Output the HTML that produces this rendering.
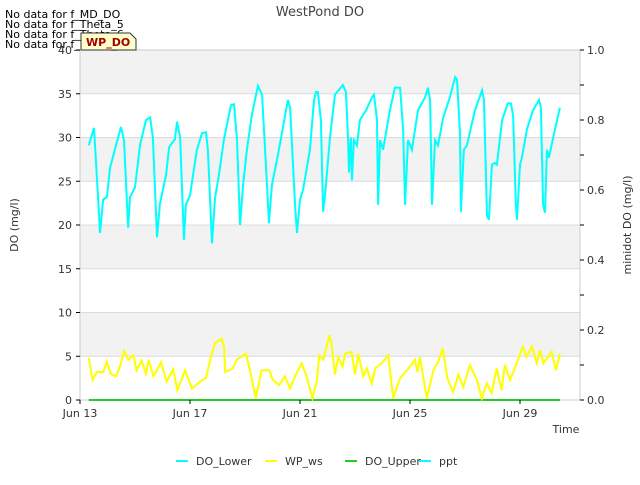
<!DOCTYPE html>
<html><head><meta charset="utf-8"><style>
body{margin:0;background:#fff;font-family:"Liberation Sans","DejaVu Sans",sans-serif}
svg text{font-family:"DejaVu Sans","Liberation Sans",sans-serif}
</style></head><body>
<svg id="c" width="640" height="480" viewBox="0 0 640 480" xmlns="http://www.w3.org/2000/svg">
<g id="bands"></g><g id="grid"></g>
<rect x="80" y="50" width="500" height="350" fill="none" stroke="#ccc"/>
<g id="series"></g><g id="axes"></g>
<text x="320" y="16" text-anchor="middle" font-size="13" fill="#444">WestPond DO</text>
<text x="566" y="433" text-anchor="middle" font-size="11" fill="#333">Time</text>
<text transform="translate(18,225) rotate(-90)" text-anchor="middle" font-size="11" fill="#333">DO (mg/l)</text>
<text transform="translate(631,225) rotate(-90)" text-anchor="middle" font-size="11" fill="#333">minidot DO (mg/l)</text>
<g font-size="11" fill="#000">
<text x="5" y="18">No data for f_MD_DO</text>
<text x="5" y="28">No data for f_Theta_5</text>
<text x="5" y="38">No data for f_Theta_6</text>
<text x="5" y="48">No data for f_Theta_7</text>
</g>
<g><path d="M81,33 H130 L136,39 V50 H81 Z" fill="#ffffcc" stroke="#333"/>
<text x="86" y="46" font-size="11" font-weight="bold" fill="#a00000">WP_DO</text></g>
<g id="legend"></g>
</svg>
<script>
const ppt_days=[0.32,0.51,0.73,0.84,0.98,1.09,1.24,1.49,1.6,1.75,1.82,2.0,2.18,2.4,2.55,2.65,2.8,2.91,3.13,3.24,3.45,3.53,3.64,3.78,3.85,4.0,4.25,4.44,4.58,4.65,4.8,4.91,5.05,5.24,5.49,5.6,5.71,5.82,5.93,6.07,6.25,6.47,6.62,6.8,6.87,6.98,7.16,7.35,7.49,7.56,7.64,7.82,7.89,8.0,8.11,8.36,8.51,8.58,8.65,8.76,8.84,8.91,9.09,9.27,9.56,9.67,9.75,9.78,9.85,9.89,9.96,10.07,10.18,10.4,10.62,10.69,10.8,10.84,10.91,11.02,11.27,11.45,11.64,11.75,11.82,11.93,12.07,12.29,12.55,12.65,12.73,12.8,12.91,13.02,13.2,13.45,13.64,13.71,13.82,13.85,13.96,14.07,14.36,14.62,14.69,14.8,14.87,14.98,15.09,15.16,15.35,15.56,15.67,15.75,15.85,15.89,16.0,16.07,16.25,16.47,16.69,16.76,16.84,16.91,16.98,17.05,17.27,17.45];
const ppt_vals=[29.1,31.1,19.1,22.9,23.2,26.5,28.3,31.2,29.7,19.7,23.2,24.3,29.1,32,32.3,30,18.6,22.5,25.7,28.9,29.8,31.8,30,18.3,22.3,23.4,28.6,30.5,30.6,28.6,17.9,23.1,25.7,29.9,33.7,33.8,29.7,20,24.6,28.6,32.6,35.9,34.9,24.6,20.2,24.6,27.4,30.6,33.1,34.3,33.4,22.3,19.1,22.9,24,28.6,34.3,35.2,35.2,32,21.5,23.4,30,34.9,36,35.2,29.7,26,30,25.1,29.7,29.1,32,33.1,34.6,34.9,32,22.3,29.7,28.6,33.1,35.7,35.7,30.9,22.3,29.7,28.6,33.1,34.6,35.7,34.3,22.3,29.7,29.1,32.2,34.6,36.9,36.6,30.3,21.5,28.6,29.1,33.1,35.4,34.3,21.1,20.6,26.9,27.1,26.9,32,33.9,33.9,32.5,22.3,20.6,26.9,27.7,30.9,33.1,34.3,33.4,22.3,21.4,28.6,27.7,30.9,33.4];
const ws_days=[0.32,0.46,0.61,0.85,0.97,1.12,1.31,1.45,1.61,1.76,1.94,2.06,2.24,2.4,2.5,2.67,2.95,3.15,3.39,3.54,3.82,4.07,4.36,4.58,4.75,4.91,5.15,5.24,5.28,5.55,5.7,6.03,6.18,6.39,6.61,6.88,7.01,7.24,7.45,7.64,7.82,8.06,8.24,8.45,8.61,8.7,8.85,9.07,9.15,9.27,9.39,9.55,9.64,9.88,10.0,10.12,10.3,10.43,10.61,10.73,10.97,11.21,11.39,11.64,11.94,12.18,12.27,12.36,12.61,12.85,13.03,13.19,13.36,13.57,13.76,13.94,14.18,14.43,14.61,14.79,14.97,15.15,15.33,15.45,15.64,15.88,16.1,16.24,16.43,16.61,16.73,16.85,17.15,17.31,17.45];
const ws_vals=[4.8,2.3,3.2,3.2,4.4,3.0,2.7,3.8,5.6,4.6,5.1,3.4,4.5,3.0,4.6,2.7,4.3,2.1,3.5,1.1,3.4,1.3,2.1,2.5,4.8,6.5,7.0,6.1,3.2,3.6,4.6,5.3,3.4,0.2,3.4,3.4,2.3,1.7,2.7,1.3,2.7,4.2,2.7,0.2,2.1,5.1,4.6,7.4,6.3,2.9,4.9,3.8,5.3,5.5,2.9,5.3,2.7,3.6,1.9,3.6,4.2,5.1,0.2,2.5,3.6,4.6,3.2,4.9,0.2,3.4,4.4,5.9,2.5,0.9,2.9,1.5,4.0,2.3,0.2,1.9,0.8,3.6,1.1,4.0,2.3,4.2,6.1,4.9,6.1,4.2,5.7,4.2,5.5,3.4,5.3];
const upper_days=[0.32,17.45];
const upper_vals=[0,0];
const xTickLabels=["Jun 13","Jun 17","Jun 21","Jun 25","Jun 29"];
const xTickDays=[0,4,8,12,16];
const yTicks=[0,5,10,15,20,25,30,35,40];
const y2Ticks=[0,0.2,0.4,0.6,0.8,1.0];

const NS="http://www.w3.org/2000/svg";
const X=d=>80+d*27.5, Y=v=>400-v*8.75, Y2=v=>400-v*350;
function mk(t,a,p){const e=document.createElementNS(NS,t);for(const k in a)e.setAttribute(k,a[k]);p.appendChild(e);return e;}
const bands=document.getElementById('bands'),grid=document.getElementById('grid'),axes=document.getElementById('axes'),series=document.getElementById('series'),legend=document.getElementById('legend');
mk('rect',{x:80,y:50,width:500,height:350,fill:'#fff'},bands);
for(let v=5;v<40;v+=10){const r=mk('rect',{x:80,y:Y(v+5),width:500,height:Y(v)-Y(v+5),fill:'#f2f2f2'},bands);

}
yTicks.forEach(v=>{
const g=mk('line',{x1:80,x2:580,y1:Y(v),y2:Y(v),stroke:'#dcdcdc'},grid);


mk('line',{x1:76,x2:80,y1:Y(v),y2:Y(v),stroke:'#000'},axes);
const t=mk('text',{x:72,y:Y(v)+4,'text-anchor':'end','font-size':11,fill:'#333'},axes);t.textContent=v;

});
for(let i=0;i<=10;i++){mk('line',{x1:580,x2:584,y1:Y2(i/10),y2:Y2(i/10),stroke:'#000'},axes);}
y2Ticks.forEach(v=>{const t=mk('text',{x:587,y:Y2(v)+4,'font-size':11,fill:'#333'},axes);t.textContent=v.toFixed(1);

});
xTickDays.forEach((d,i)=>{mk('line',{x1:X(d),x2:X(d),y1:400,y2:404,stroke:'#000'},axes);
const t=mk('text',{x:X(d),y:417,'text-anchor':'middle','font-size':11,fill:'#333'},axes);t.textContent=xTickLabels[i];

});
function line(ds,vs,col,name){const p=mk('polyline',{points:ds.map((d,i)=>X(d)+','+Y(vs[i])).join(' '),fill:'none',stroke:col,'stroke-width':2},series);

}
line(upper_days,upper_vals,'#22cc22','do-upper-line');
line(ws_days,ws_vals,'#ffff00','wp-ws-line');
line(ppt_days,ppt_vals,'#00ffff','ppt-line');
[["DO_Lower","#00ffff",176],["WP_ws","#ffff00",265],["DO_Upper","#22cc22",345],["ppt","#00ffff",419]].forEach(([n,c,x])=>{
const g=mk('g',{},legend);


mk('line',{x1:x,x2:x+12,y1:461,y2:461,stroke:c,'stroke-width':2},g);
const t=mk('text',{x:x+20,y:465,'font-size':11,fill:'#333'},g);t.textContent=n;});
</script>
</body></html>
